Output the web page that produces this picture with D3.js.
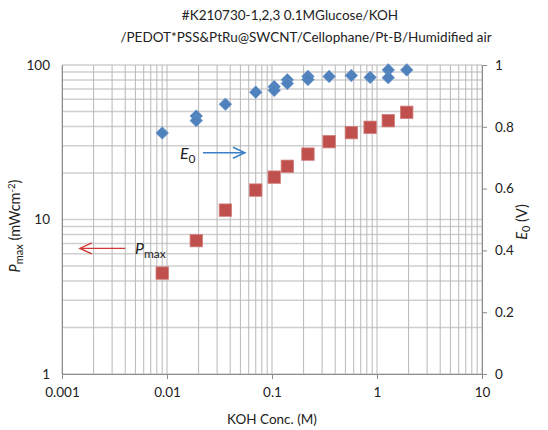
<!DOCTYPE html>
<html><head><meta charset="utf-8">
<script src="https://cdn.jsdelivr.net/npm/d3@7"></script>
<style>body{margin:0;background:#fff}svg{display:block}text{font-family:Lato,"Open Sans",sans-serif;fill:#222}</style>
</head><body>
<svg id="c" width="548" height="430"></svg>
<script>
// ---- data ----
const titleLines = ["#K210730-1,2,3  0.1MGlucose/KOH", "/PEDOT*PSS&PtRu@SWCNT/Cellophane/Pt-B/Humidified air"];
const xTicks = [0.001, 0.01, 0.1, 1, 10];
const xTickLabels = ["0.001", "0.01", "0.1", "1", "10"];
const yLeftTicks = [1, 10, 100];
const yLeftTickLabels = ["1", "10", "100"];
const yRightTicks = [0, 0.2, 0.4, 0.6, 0.8, 1];
const yRightTickLabels = ["0", "0.2", "0.4", "0.6", "0.8", "1"];
const pmaxConc = [0.009, 0.019, 0.036, 0.07, 0.105, 0.14, 0.22, 0.35, 0.57, 0.86, 1.28, 1.92];
const pmaxVal  = [4.5, 7.3, 11.5, 15.5, 18.8, 22.1, 26.5, 31.9, 36.5, 39.5, 43.6, 49.4];
const e0Conc = [0.009, 0.019, 0.019, 0.036, 0.07, 0.105, 0.105, 0.14, 0.14, 0.22, 0.22, 0.35, 0.57, 0.86, 1.28, 1.28, 1.92];
const e0Val  = [0.78, 0.835, 0.82, 0.873, 0.912, 0.93, 0.918, 0.952, 0.94, 0.963, 0.953, 0.963, 0.966, 0.96, 0.984, 0.959, 0.984];

// ---- layout ----
const L = 62, R = 482, T = 65, B = 374;
const svg = d3.select("#c");
const x = d3.scaleLog().domain([0.001, 10]).range([L, R]);
const yL = d3.scaleLog().domain([1, 100]).range([B, T]);
const yR = d3.scaleLinear().domain([0, 1]).range([B, T]);

const minorX = [], minorY = [];
for (let d = -3; d < 1; d++) for (let m = 2; m <= 9; m++) minorX.push(m * Math.pow(10, d));
for (let d = 0; d < 2; d++) for (let m = 2; m <= 9; m++) minorY.push(m * Math.pow(10, d));

const g = svg.append("g");
g.selectAll(".hg").data(minorY.concat(yLeftTicks)).join("line")
  .attr("x1", L).attr("x2", R).attr("y1", d => yL(d)).attr("y2", d => yL(d))
  .attr("stroke", "#cfcfcf").attr("stroke-width", 1.5);
g.selectAll(".vg").data(minorX.concat(xTicks)).join("line")
  .attr("y1", T).attr("y2", B).attr("x1", d => x(d)).attr("x2", d => x(d))
  .attr("stroke", "#b8b8b8").attr("stroke-width", 1);

// axes
const xAxis = d3.axisBottom(x).tickValues(xTicks).tickFormat((d, i) => xTickLabels[i]).tickSize(5).tickSizeOuter(0);
const ax = svg.append("g").attr("transform", `translate(0,${B})`).call(xAxis);
const yAxisL = d3.axisLeft(yL).tickValues(yLeftTicks).tickFormat((d, i) => yLeftTickLabels[i]).tickSize(0).tickPadding(12);
const al = svg.append("g").attr("transform", `translate(${L},0)`).call(yAxisL);
const yAxisR = d3.axisRight(yR).tickValues(yRightTicks).tickFormat((d, i) => yRightTickLabels[i]).tickSize(5).tickPadding(8).tickSizeOuter(0);
const ar = svg.append("g").attr("transform", `translate(${R},0)`).call(yAxisR);
[ax, al, ar].forEach(a => {
  a.selectAll("path.domain").attr("stroke", "#8c8c8c");
  a.selectAll(".tick line").attr("stroke", "#8c8c8c");
  a.selectAll("text").style("font-family", "Lato, 'Open Sans', sans-serif").style("font-size", "13.5px").attr("fill", "#222");
});
ax.selectAll("text").attr("dy", "1.1em");

// markers
const red = "#c0504d", blue = "#4f81bd";
svg.append("g").selectAll("rect").data(pmaxConc.map((c, i) => [c, pmaxVal[i]])).join("rect")
  .attr("x", d => x(d[0]) - 6.2).attr("y", d => yL(d[1]) - 6.2).attr("width", 12.4).attr("height", 12.4)
  .attr("fill", red).attr("stroke", "#d07f7c").attr("stroke-width", 0.8);
svg.append("g").selectAll("path").data(e0Conc.map((c, i) => [c, e0Val[i]])).join("path")
  .attr("d", d3.symbol(d3.symbolSquare, 80))
  .attr("transform", d => `translate(${x(d[0])},${yR(d[1])}) rotate(45)`)
  .attr("fill", blue).attr("stroke", "#6f98c9").attr("stroke-width", 0.6);

// annotation arrows
function arrow(x1, x2, y, col) {
  const dir = Math.sign(x2 - x1);
  svg.append("line").attr("x1", x1).attr("x2", x2).attr("y1", y).attr("y2", y).attr("stroke", col).attr("stroke-width", 1.4);
  svg.append("path").attr("d", `M${x2 - dir * 12},${y - 5.5}L${x2},${y}L${x2 - dir * 12},${y + 5.5}`)
    .attr("fill", "none").attr("stroke", col).attr("stroke-width", 1.4);
}
arrow(x(0.022), x(0.0553), yR(0.716), "#3b7fc4");
arrow(x(0.004), x(0.00148), yL(6.5), "#d03a36");

const e0t = svg.append("text").attr("x", 180).attr("y", 159).style("font-size", "16px");
e0t.append("tspan").text("E").style("font-style", "italic");
e0t.append("tspan").text("0").style("font-size", "12px").attr("dy", 4);
const pt = svg.append("text").attr("x", 135).attr("y", 254).style("font-size", "16px");
pt.append("tspan").text("P").style("font-style", "italic");
pt.append("tspan").text("max").style("font-size", "12px").attr("dy", 4);

// titles
const titleX = [290, 306];
const tt = svg.append("text").attr("text-anchor", "middle").style("font-size", "13.5px");
titleLines.forEach((s, i) => tt.append("tspan").attr("x", titleX[i]).attr("y", 20 + i * 22).text(s));

svg.append("text").attr("x", (L + R) / 2).attr("y", 424).attr("text-anchor", "middle").style("font-size", "13.5px").text("KOH Conc. (M)");

const ylt = svg.append("text").attr("transform", `translate(20,226) rotate(-90)`).attr("text-anchor", "middle").style("font-size", "14.5px");
ylt.append("tspan").text("P").style("font-style", "italic");
ylt.append("tspan").text("max").style("font-size", "11px").attr("dy", 3);
ylt.append("tspan").text(" (mWcm").attr("dy", -3);
ylt.append("tspan").text("-2").style("font-size", "9.5px").attr("dy", -5);
ylt.append("tspan").text(")").attr("dy", 5);

const yrt = svg.append("text").attr("transform", `translate(527,222) rotate(-90)`).attr("text-anchor", "middle").style("font-size", "14.5px");
yrt.append("tspan").text("E").style("font-style", "italic");
yrt.append("tspan").text("0").style("font-size", "11px").attr("dy", 3);
yrt.append("tspan").text(" (V)").attr("dy", -3);
</script>
</body></html>
